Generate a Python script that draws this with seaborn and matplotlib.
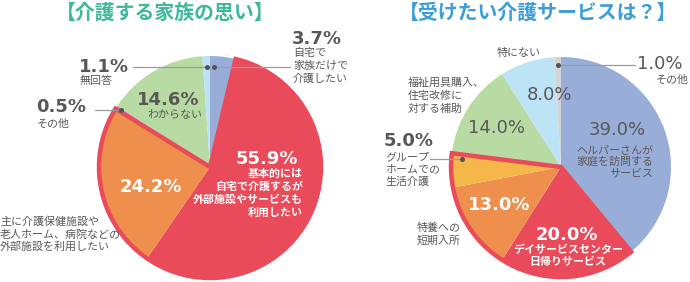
import matplotlib
matplotlib.use("Agg")
import matplotlib.pyplot as plt
from matplotlib.patches import Wedge
import seaborn as sns

sns.set_theme(style="white")
plt.rcParams['font.family'] = ['Noto Sans CJK JP', 'DejaVu Sans']

# ---- data ----
left_title = "【介護する家族の思い】"
left_labels = ["自宅で家族だけで介護したい", "基本的には自宅で介護するが外部施設やサービスも利用したい",
               "主に介護保健施設や老人ホーム、病院などの外部施設を利用したい", "その他", "わからない", "無回答"]
left_values = [3.7, 55.9, 24.2, 0.5, 14.6, 1.1]
left_colors = ["#98aed8", "#e94b5b", "#ef8f4d", "#b9a3d3", "#b7dba3", "#bde4f6"]

right_title = "【受けたい介護サービスは？】"
right_labels = ["ヘルパーさんが家庭を訪問するサービス", "デイサービスセンター日帰りサービス", "特養への短期入所",
                "グループホームでの生活介護", "福祉用具購入、住宅改修に対する補助", "特にない", "その他"]
right_values = [39.0, 20.0, 13.0, 5.0, 14.0, 8.0, 1.0]
right_colors = ["#98aed8", "#e94b5b", "#ef8f4d", "#f5b64a", "#b7dba3", "#bde4f6", "#d4d4d4"]

W, H = 690, 282
fig = plt.figure(figsize=(W / 100, H / 100), dpi=100)
ax = fig.add_axes([0, 0, 1, 1])

def Y(yp):
    return H - yp

DARK = "#5a5757"
LINE = "#9b9b9b"
RED = "#e94b5b"

def draw_pie(values, colors, cx, cy, r, hl):
    ax.pie(values, colors=colors, startangle=90, counterclock=False,
           center=(cx, Y(cy)), radius=r, wedgeprops=dict(linewidth=0))
    total = sum(values)
    start = sum(values[:hl[0]]) / total
    end = sum(values[:hl[1] + 1]) / total
    th2 = 90 - 360 * start
    th1 = 90 - 360 * end
    ax.add_patch(Wedge((cx, Y(cy)), r, th1, th2, facecolor="none",
                       edgecolor=RED, linewidth=3.2, joinstyle="miter", zorder=5))

draw_pie(left_values, left_colors, 210, 167, 111, (1, 2))
draw_pie(right_values, right_colors, 561, 167, 110, (1, 3))

NUM = dict(family="DejaVu Sans", fontweight="bold", fontsize=13)
NUMN = dict(family="DejaVu Sans", fontweight="normal", fontsize=13)
JP = dict(family=["Noto Sans CJK JP", "DejaVu Sans"], fontsize=7.9)

def t(x, y, s, color=DARK, ha="left", va="center", **kw):
    ax.text(x, Y(y), s, color=color, ha=ha, va=va, zorder=10, **kw)

def lines(x, y0, strs, dy=12.7, **kw):
    for i, s in enumerate(strs):
        t(x, y0 + i * dy, s, **kw)

def leader(x0, x1, y):
    ax.plot([x0, x1], [Y(y), Y(y)], color=LINE, lw=0.9, zorder=9)
    ax.plot([x1], [Y(y)], 'o', color="#555555", ms=2.6, zorder=10)

# titles
t(165, 12, left_title, color="#3db89c", ha="center", fontsize=14.3, fontweight="bold",
  family=["Noto Sans CJK JP", "DejaVu Sans"])
t(538, 12, right_title, color="#3c9ed9", ha="center", fontsize=14.3, fontweight="bold",
  family=["Noto Sans CJK JP", "DejaVu Sans"])

# ---- left pie labels ----
t(292, 39, f"{left_values[0]}%", **NUM)
lines(293, 53, ["自宅で", "家族だけで", "介護したい"], **JP)
leader(290, 214, 67)

t(79, 67, f"{left_values[5]}%", **NUM)
t(80, 81, "無回答", **JP)
leader(133, 207, 67)

t(36, 107, f"{left_values[3]}%", **NUM)
t(37, 124, "その他", **JP)
leader(95, 121, 110)

t(168, 100, f"{left_values[4]}%", ha="center", **NUM)
t(175, 115, "わからない", ha="center", **JP)

t(267, 159, f"{left_values[1]}%", color="white", ha="center", **NUM)
lines(303, 174, ["基本的には", "自宅で介護するが", "外部施設やサービスも", "利用したい"],
      color="white", ha="right", fontweight="bold", **JP)

t(151, 187, f"{left_values[2]}%", color="white", ha="center", **NUM)
lines(0, 222, ["主に介護保健施設や", "老人ホーム、病院などの", "外部施設を利用したい"], dy=12.5, **JP)

# ---- right pie labels ----
t(519, 53, "特にない", ha="center", **JP)
t(637, 64, f"{right_values[6]}%", **NUMN)
t(689, 80, "その他", ha="right", **JP)
leader(635, 558, 65)

lines(408, 83, ["福祉用具購入、", "住宅改修に", "対する補助"], **JP)
t(549, 95, f"{right_values[5]}%", ha="center", **NUMN)
t(497, 128, f"{right_values[4]}%", ha="center", **NUMN)

t(617, 130, f"{right_values[0]}%", ha="center", **NUMN)
lines(653, 150, ["ヘルパーさんが", "家庭を訪問する", "サービス"], dy=11.8, ha="right", **JP)

t(384, 141, f"{right_values[3]}%", **NUM)
lines(385, 157, ["グループ", "ホームでの", "生活介護"], dy=12.5, **JP)
leader(430, 462, 159)

t(499, 205, f"{right_values[2]}%", color="white", ha="center", **NUM)
lines(417, 228, ["特養への", "短期入所"], dy=12.5, **JP)

t(567, 235, f"{right_values[1]}%", color="white", ha="center", **NUM)
lines(568, 250, ["デイサービスセンター", "日帰りサービス"], dy=12.2, color="white",
      ha="center", fontweight="bold", **JP)

ax.set_xlim(0, W)
ax.set_ylim(0, H)
ax.set_aspect("auto")
ax.axis("off")
fig.savefig("out.png", dpi=100)
